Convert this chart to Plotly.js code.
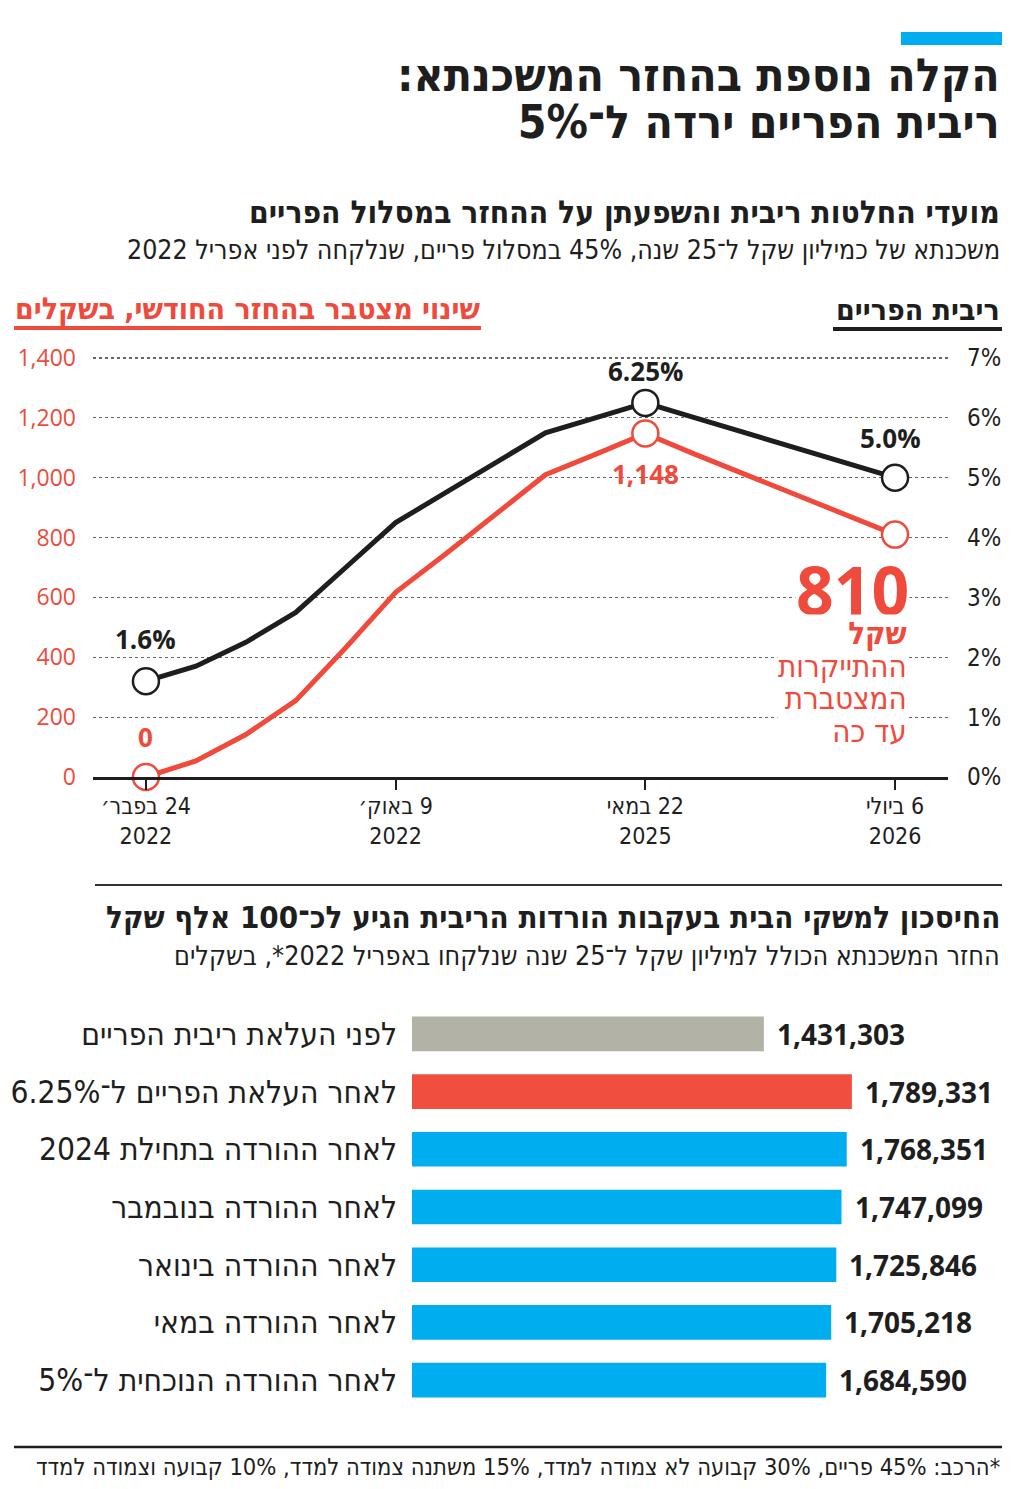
<!DOCTYPE html>
<html lang="he">
<head>
<meta charset="utf-8">
<script src="https://cdn.plot.ly/plotly-3.0.1.min.js"></script>
<style>
  html, body { margin: 0; padding: 0; background: #fff; }
  #chart { width: 1024px; height: 1489px; }
</style>
</head>
<body>
<div id="chart"></div>
<script>
// ---- Prime rate and payment change, one step per rate decision ----
const decisionStep = [0, 1, 2, 3, 4, 5, 6, 7, 8, 9, 10, 11, 12, 13, 14, 15];
const primeRate = [1.6, 1.85, 2.25, 2.75, 3.5, 4.25, 4.75, 5.25, 5.75, 6.0, 6.25, 6.0, 5.75, 5.5, 5.25, 5.0];
const paymentChange = [0, 54, 142, 255, 432, 617, 745, 876, 1010, 1078, 1148, 1078, 1010, 942, 876, 810];
const highlightedSteps = [0, 10, 15];

const dateTickSteps = [0, 5, 10, 15];
const dateTickDay = ['24 בפבר׳', '9 באוק׳', '22 במאי', '6 ביולי'];
const dateTickYear = ['2022', '2022', '2025', '2026'];
const paymentTicks = [0, 200, 400, 600, 800, 1000, 1200, 1400];
const rateTicks = [0, 1, 2, 3, 4, 5, 6, 7];

// ---- Total repayment per scenario ----
const scenarioLabels = [
  'לפני העלאת ריבית הפריים',
  'לאחר העלאת הפריים ל־6.25%',
  'לאחר ההורדה בתחילת 2024',
  'לאחר ההורדה בנובמבר',
  'לאחר ההורדה בינואר',
  'לאחר ההורדה במאי',
  'לאחר ההורדה הנוכחית ל־5%'
];
const totalRepayment = [1431303, 1789331, 1768351, 1747099, 1725846, 1705218, 1684590];

// ---- styles ----
const barColors = ['#b3b2a6', '#f04e3e', '#00aeef', '#00aeef', '#00aeef', '#00aeef', '#00aeef'];
const RED = '#ef4a3b';
const INK = '#1e1e1e';
const HEB = '"DejaVu Sans Condensed", "DejaVu Sans", sans-serif';
const NUM = '"Open Sans", "DejaVu Sans", sans-serif';

const W = 1024, H = 1489;
const px = v => v / W;
const py = v => 1 - v / H;
const rtl = s => '\u202B' + s + '\u202C';
const fmt = v => v.toLocaleString('en-US');
const big = (s, size) => '<span style="font-size:' + size + 'px">' + s + '</span>';

const traces = [
  {
    x: decisionStep, y: paymentChange, xaxis: 'x', yaxis: 'y',
    mode: 'lines', line: { color: RED, width: 5 }, hoverinfo: 'skip', cliponaxis: false
  },
  {
    x: decisionStep, y: primeRate, xaxis: 'x', yaxis: 'y2',
    mode: 'lines', line: { color: INK, width: 5 }, hoverinfo: 'skip', cliponaxis: false
  },
  {
    x: highlightedSteps, y: highlightedSteps.map(i => paymentChange[i]), xaxis: 'x', yaxis: 'y',
    mode: 'markers', cliponaxis: false, hoverinfo: 'skip',
    marker: { symbol: 'circle', size: 26, color: '#fff', line: { color: RED, width: 2.5 } }
  },
  {
    x: highlightedSteps, y: highlightedSteps.map(i => primeRate[i]), xaxis: 'x', yaxis: 'y2',
    mode: 'markers', cliponaxis: false, hoverinfo: 'skip',
    marker: { symbol: 'circle', size: 26, color: '#fff', line: { color: INK, width: 2.5 } }
  },
  {
    type: 'bar', orientation: 'h', x: totalRepayment, y: scenarioLabels.map(rtl),
    xaxis: 'x3', yaxis: 'y3', width: 0.6, hoverinfo: 'skip',
    marker: { color: barColors, line: { width: 0 } }
  }
];

const annotations = [];
const addText = (o) => annotations.push(Object.assign({ showarrow: false, xref: 'paper', yref: 'paper' }, o));

// headline (two lines, tight leading)
addText({ x: px(1002), y: py(98.5), xanchor: 'right', yanchor: 'middle', align: 'right',
  text: big(rtl('הקלה נוספת בהחזר המשכנתא:'), 46) + '<br>' + big(rtl('ריבית הפריים ירדה ל־5%'), 46),
  font: { family: HEB, size: 36, color: INK, weight: 'bold' } });

// line chart headings
addText({ x: px(1002), y: py(213), xanchor: 'right', yanchor: 'middle', text: rtl('מועדי החלטות ריבית והשפעתן על ההחזר במסלול הפריים'),
  font: { family: HEB, size: 31.5, color: INK, weight: 'bold' } });
addText({ x: px(1002), y: py(249), xanchor: 'right', yanchor: 'middle', text: rtl('משכנתא של כמיליון שקל ל־25 שנה, 45% במסלול פריים, שנלקחה לפני אפריל 2022'),
  font: { family: HEB, size: 26.5, color: INK } });
addText({ x: px(1002), y: py(309), xanchor: 'right', yanchor: 'middle', text: rtl('ריבית הפריים'),
  font: { family: HEB, size: 30, color: INK, weight: 'bold' } });
addText({ x: px(247), y: py(308), xanchor: 'center', yanchor: 'middle', text: rtl('שינוי מצטבר בהחזר החודשי, בשקלים'),
  font: { family: HEB, size: 30, color: RED, weight: 'bold' } });

// point labels
const first = highlightedSteps[0], peak = highlightedSteps[1], last = highlightedSteps[2];
const boldNum = (size, color) => ({ family: NUM, size: size, color: color, weight: 'bold' });
annotations.push(
  { x: first, y: primeRate[first], xref: 'x', yref: 'y2', yshift: 42, showarrow: false, text: primeRate[first].toFixed(1) + '%', font: boldNum(26, INK) },
  { x: first, y: paymentChange[first], xref: 'x', yref: 'y', yshift: 40, showarrow: false, text: fmt(paymentChange[first]), font: boldNum(26, RED) },
  { x: peak, y: primeRate[peak], xref: 'x', yref: 'y2', yshift: 32, showarrow: false, text: primeRate[peak].toFixed(2) + '%', font: boldNum(26, INK) },
  { x: peak, y: paymentChange[peak], xref: 'x', yref: 'y', yshift: -41, showarrow: false, text: fmt(paymentChange[peak]), font: boldNum(26, RED) },
  { x: last, y: primeRate[last], xref: 'x', yref: 'y2', yshift: 40, xshift: -5, showarrow: false, text: primeRate[last].toFixed(1) + '%', font: boldNum(26, INK) },
  // big total in a tight box, its caption block is layered above it
  { x: last, y: paymentChange[last], xref: 'x', yref: 'y', yshift: -54, xshift: 15, xanchor: 'right', showarrow: false,
    text: fmt(paymentChange[last]), font: boldNum(66, RED), bgcolor: '#fff', borderpad: 0, height: 56 },
  { x: last, y: paymentChange[last], xref: 'x', yref: 'y', yshift: -147, xshift: 13, xanchor: 'right', yanchor: 'middle', align: 'right', showarrow: false,
    text: '<b>' + big(rtl('שקל'), 31) + '</b><br>' + big(rtl('ההתייקרות'), 31) + '<br>' + big(rtl('המצטברת'), 31) + '<br>' + big(rtl('עד כה'), 31),
    font: { family: HEB, size: 25, color: RED }, bgcolor: '#fff', borderpad: 0 }
);

// bar chart headings
addText({ x: px(1002), y: py(917), xanchor: 'right', yanchor: 'middle', text: rtl('החיסכון למשקי הבית בעקבות הורדות הריבית הגיע לכ־100 אלף שקל'),
  font: { family: HEB, size: 31, color: INK, weight: 'bold' } });
addText({ x: px(1002), y: py(955), xanchor: 'right', yanchor: 'middle', text: rtl('החזר המשכנתא הכולל למיליון שקל ל־25 שנה שנלקחו באפריל 2022*, בשקלים'),
  font: { family: HEB, size: 26.7, color: INK } });

// bar value labels
totalRepayment.forEach((v, i) => annotations.push({
  x: v, y: rtl(scenarioLabels[i]), xref: 'x3', yref: 'y3', xanchor: 'left', yanchor: 'middle', xshift: 11,
  showarrow: false, text: fmt(v), font: boldNum(28, INK)
}));

// footnote
addText({ x: px(1002), y: py(1467), xanchor: 'right', yanchor: 'middle',
  text: rtl('*הרכב: 45% פריים, 30% קבועה לא צמודה למדד, 15% משתנה צמודה למדד, 10% קבועה וצמודה למדד'),
  font: { family: HEB, size: 23.5, color: INK } });

const shapes = [
  { type: 'rect', xref: 'paper', yref: 'paper', x0: px(901), x1: px(1002), y0: py(45), y1: py(32), fillcolor: '#00aeef', line: { width: 0 } },
  { type: 'line', xref: 'paper', yref: 'paper', x0: px(14), x1: px(481), y0: py(328), y1: py(328), line: { color: RED, width: 4 } },
  { type: 'line', xref: 'paper', yref: 'paper', x0: px(833), x1: px(1002), y0: py(329), y1: py(329), line: { color: INK, width: 4 } },
  { type: 'line', xref: 'paper', yref: 'paper', x0: px(95), x1: px(1002), y0: py(885), y1: py(885), line: { color: '#333', width: 2 } },
  { type: 'line', xref: 'paper', yref: 'paper', x0: px(14), x1: px(1002), y0: py(1447), y1: py(1447), line: { color: INK, width: 2.5 } }
];

// plot area reaches a few pixels above the top gridline so it is still drawn
const plotTop = 353, plotBottom = 777, gridTop = 358;
const headroom = (plotBottom - plotTop) / (plotBottom - gridTop);
const stepRange = [-1.06, 16.06];

const layout = {
  width: W, height: H,
  margin: { l: 0, r: 0, t: 0, b: 0 },
  paper_bgcolor: '#fff', plot_bgcolor: '#fff',
  showlegend: false,
  xaxis: {
    domain: [px(93), px(948)], range: stepRange, anchor: 'y',
    tickmode: 'array', tickvals: dateTickSteps,
    ticktext: dateTickDay.map((d, i) => rtl(d) + '<br>' + dateTickYear[i]),
    ticks: 'outside', ticklen: 10, tickwidth: 2, tickcolor: INK,
    showline: true, linecolor: INK, linewidth: 2.5,
    showgrid: false, zeroline: false, fixedrange: true,
    tickfont: { family: HEB, size: 23, color: INK }, ticklabelstandoff: -3
  },
  xaxis2: {
    overlaying: 'x', anchor: 'y', side: 'bottom', range: stepRange,
    tickmode: 'array', tickvals: dateTickSteps,
    ticks: 'inside', ticklen: 10, tickwidth: 2, tickcolor: INK,
    showticklabels: false, showline: false, showgrid: false, zeroline: false
  },
  yaxis: {
    domain: [py(plotBottom), py(plotTop)], range: [0, 1400 * headroom], anchor: 'x',
    tickmode: 'array', tickvals: paymentTicks, ticktext: paymentTicks.map(fmt),
    showgrid: true, gridcolor: '#666', griddash: 'dot', gridwidth: 1.2,
    zeroline: false, showline: false, ticks: '',
    tickfont: { family: NUM, size: 23, color: RED }, ticklabelstandoff: 16
  },
  yaxis2: {
    overlaying: 'y', side: 'right', anchor: 'x', range: [0, 7 * headroom],
    tickmode: 'array', tickvals: rateTicks, ticktext: rateTicks.map(v => v + '%'),
    showgrid: false, zeroline: false, showline: false, ticks: '',
    tickfont: { family: HEB, size: 24, color: INK }, ticklabelstandoff: 18
  },
  xaxis3: {
    domain: [px(412), px(1002)], range: [0, 2400000], anchor: 'y3', visible: false
  },
  yaxis3: {
    domain: [py(1409), py(1005)], anchor: 'x3',
    categoryorder: 'array', categoryarray: scenarioLabels.map(rtl), autorange: 'reversed',
    showgrid: false, zeroline: false, showline: false, ticks: '',
    tickfont: { family: HEB, size: 31.5, color: INK }, ticklabelstandoff: 14
  },
  annotations: annotations,
  shapes: shapes
};

Plotly.newPlot('chart', traces, layout, { staticPlot: true, displayModeBar: false });
</script>
</body>
</html>
